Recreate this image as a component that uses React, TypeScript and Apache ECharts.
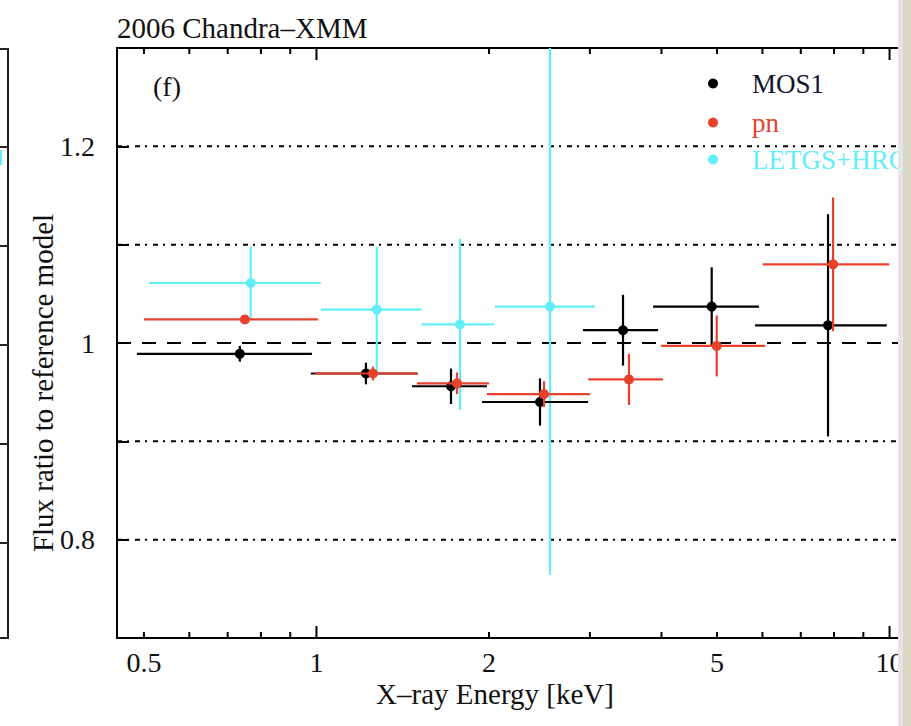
import React, { useEffect, useRef } from "react";
import * as echarts from "echarts";

// ---- data ----
const mos1X = [0.735, 1.22, 1.717, 2.455, 3.427, 4.894, 7.81];
const mos1XLo = [0.486, 0.978, 1.468, 1.945, 2.918, 3.867, 5.826];
const mos1XHi = [0.982, 1.5, 1.984, 2.978, 3.945, 5.919, 9.89];
const mos1Y = [0.989, 0.969, 0.956, 0.94, 1.013, 1.037, 1.018];
const mos1YErr = [0.008, 0.011, 0.018, 0.024, 0.036, 0.04, 0.113];

const pnX = [0.75, 1.255, 1.759, 2.495, 3.51, 4.994, 7.969];
const pnXLo = [0.5, 0.994, 1.497, 1.984, 2.98, 3.993, 6.007];
const pnXHi = [1.006, 1.504, 2.0, 3.0, 4.025, 6.065, 9.99];
const pnY = [1.024, 0.969, 0.959, 0.948, 0.963, 0.997, 1.08];
const pnYErr = [0.004, 0.007, 0.011, 0.013, 0.026, 0.031, 0.068];

const letgsX = [0.768, 1.274, 1.78, 2.556];
const letgsXLo = [0.51, 1.018, 1.526, 2.049];
const letgsXHi = [1.017, 1.526, 2.04, 3.06];
const letgsY = [1.061, 1.034, 1.019, 1.037];
const letgsYErr = [0.037, 0.064, 0.087, 0.273];

const xTicks = [0.5, 0.6, 0.7, 0.8, 0.9, 1, 2, 3, 4, 5, 6, 7, 8, 9, 10];
const xMajorTicks = [1, 10];
const xTickLabels = [0.5, 1, 2, 5, 10];
const yTickLabels = [0.8, 1, 1.2];
const dottedGrid = [0.8, 0.9, 1.1, 1.2];
const dashedGrid = [1.0];

const X_MIN = 0.4487;
const X_MAX = 10.9;
const Y_MIN = 0.7;
const Y_MAX = 1.3;

const FONT = "'Liberation Serif', 'Times New Roman', serif";
const BLACK = "#000000";
const RED = "#e8412b";
const CYAN = "#62eef8";
const TEXT = "#111111";

function errSeries(
  name: string,
  color: string,
  xs: number[],
  xlo: number[],
  xhi: number[],
  ys: number[],
  yerr: number[]
) {
  return {
    type: "custom",
    name,
    clip: true,
    itemStyle: { color },
    data: xs.map((x, i) => [x, ys[i], xlo[i], xhi[i], ys[i] - yerr[i], ys[i] + yerr[i]]),
    encode: { x: [0, 2, 3], y: [1, 4, 5] },
    renderItem: (_params: any, api: any) => {
      const c = api.coord([api.value(0), api.value(1)]);
      const l = api.coord([api.value(2), api.value(1)]);
      const r = api.coord([api.value(3), api.value(1)]);
      const b = api.coord([api.value(0), api.value(4)]);
      const t = api.coord([api.value(0), api.value(5)]);
      return {
        type: "group",
        children: [
          {
            type: "line",
            shape: { x1: l[0], y1: l[1], x2: r[0], y2: r[1] },
            style: { stroke: color, lineWidth: 2.2 },
          },
          {
            type: "line",
            shape: { x1: b[0], y1: b[1], x2: t[0], y2: t[1] },
            style: { stroke: color, lineWidth: 2.2 },
          },
          {
            type: "circle",
            shape: { cx: c[0], cy: c[1], r: 5 },
            style: { fill: color },
          },
        ],
      };
    },
  };
}

function gridLineSeries(values: number[], dash: number[]) {
  return {
    type: "custom",
    silent: true,
    clip: true,
    data: values.map((v) => [X_MIN, v]),
    encode: { x: 0, y: 1 },
    renderItem: (params: any, api: any) => {
      const cs = params.coordSys;
      const p = api.coord([X_MIN, api.value(1)]);
      return {
        type: "line",
        shape: { x1: cs.x, y1: p[1], x2: cs.x + cs.width, y2: p[1] },
        style: { stroke: BLACK, lineWidth: 2, lineDash: dash },
      };
    },
  };
}

const tickSeries = {
  type: "custom",
  silent: true,
  clip: false,
  data: xTicks.map((v) => [v, Y_MIN]),
  encode: { x: 0, y: 1 },
  renderItem: (_params: any, api: any) => {
    const v = api.value(0);
    const bot = api.coord([v, Y_MIN]);
    const top = api.coord([v, Y_MAX]);
    const len = xMajorTicks.indexOf(v) >= 0 ? 12 : 6;
    const children: any[] = [
      {
        type: "line",
        shape: { x1: bot[0], y1: bot[1], x2: bot[0], y2: bot[1] - len },
        style: { stroke: BLACK, lineWidth: 2 },
      },
      {
        type: "line",
        shape: { x1: top[0], y1: top[1], x2: top[0], y2: top[1] + len },
        style: { stroke: BLACK, lineWidth: 2 },
      },
    ];
    if (xTickLabels.indexOf(v) >= 0) {
      children.push({
        type: "text",
        style: {
          text: String(v),
          x: bot[0],
          y: bot[1] + 24,
          align: "center",
          verticalAlign: "middle",
          fontFamily: FONT,
          fontSize: 28,
          fill: TEXT,
        },
      });
    }
    return { type: "group", children };
  },
};

function legendItem(name: string, textColor: string, top: number) {
  return {
    data: [{ name, icon: "circle" }],
    left: 708,
    top,
    padding: 0,
    itemWidth: 68,
    itemHeight: 10,
    selectedMode: false,
    textStyle: { fontFamily: FONT, fontSize: 27, color: textColor },
  };
}

export default function App() {
  const ref = useRef<HTMLDivElement>(null);
  useEffect(() => {
    if (!ref.current) return;
    const chart = echarts.init(ref.current, undefined, { renderer: "svg" });
    const neighborTicks = [147, 246, 345, 444, 543];
    chart.setOption({
      animation: false,
      backgroundColor: "#ffffff",
      grid: {
        left: 117,
        top: 48,
        right: 0,
        bottom: 88,
        show: true,
        borderColor: BLACK,
        borderWidth: 2,
        backgroundColor: "transparent",
      },
      xAxis: {
        type: "log",
        min: X_MIN,
        max: X_MAX,
        axisLine: { show: false },
        axisTick: { show: false },
        axisLabel: { show: false },
        splitLine: { show: false },
      },
      yAxis: {
        type: "value",
        min: Y_MIN,
        max: Y_MAX,
        interval: 0.1,
        axisLine: { show: false },
        axisTick: { show: true, inside: true, length: 12, lineStyle: { color: BLACK, width: 2 } },
        splitLine: { show: false },
        axisLabel: {
          margin: 22,
          fontFamily: FONT,
          fontSize: 28,
          color: TEXT,
          formatter: (v: number) => {
            const hit = yTickLabels.find((t) => Math.abs(t - v) < 1e-6);
            return hit === undefined ? "" : String(hit);
          },
        },
      },
      legend: [
        legendItem("MOS1", "#151530", 70),
        legendItem("pn", RED, 109),
        legendItem("LETGS+HRC", CYAN, 146),
      ],
      series: [
        gridLineSeries(dottedGrid, [5, 5, 2, 6]),
        gridLineSeries(dashedGrid, [14, 11]),
        tickSeries,
        errSeries("LETGS+HRC", CYAN, letgsX, letgsXLo, letgsXHi, letgsY, letgsYErr),
        errSeries("MOS1", BLACK, mos1X, mos1XLo, mos1XHi, mos1Y, mos1YErr),
        errSeries("pn", RED, pnX, pnXLo, pnXHi, pnY, pnYErr),
      ],
      graphic: [
        {
          type: "text",
          x: 117,
          y: 28,
          style: {
            text: "2006 Chandra–XMM",
            align: "left",
            verticalAlign: "middle",
            fontFamily: FONT,
            fontSize: 29,
            fill: TEXT,
          },
        },
        {
          type: "text",
          x: 153,
          y: 86,
          style: {
            text: "(f)",
            align: "left",
            verticalAlign: "middle",
            fontFamily: FONT,
            fontSize: 28,
            fill: TEXT,
          },
        },
        {
          type: "text",
          x: 495,
          y: 694,
          style: {
            text: "X–ray Energy [keV]",
            align: "center",
            verticalAlign: "middle",
            fontFamily: FONT,
            fontSize: 29,
            fill: TEXT,
          },
        },
        {
          type: "text",
          x: 43,
          y: 383,
          rotation: Math.PI / 2,
          style: {
            text: "Flux ratio to reference model",
            align: "center",
            verticalAlign: "middle",
            fontFamily: FONT,
            fontSize: 29,
            fill: TEXT,
          },
        },
        // neighbouring panel edge on the left
        {
          type: "polyline",
          shape: { points: [[0, 49], [8, 49], [8, 638], [0, 638]] },
          style: { stroke: "#222222", lineWidth: 2, fill: "none" },
        },
        ...neighborTicks.map((y) => ({
          type: "line",
          shape: { x1: 0, y1: y, x2: 8, y2: y },
          style: { stroke: "#222222", lineWidth: 2 },
        })),
        {
          type: "line",
          shape: { x1: 1, y1: 150, x2: 1, y2: 165 },
          style: { stroke: CYAN, lineWidth: 2 },
        },
        // right-hand window edge
        {
          type: "rect",
          z: 100,
          shape: { x: 898, y: 0, width: 5, height: 726 },
          style: { fill: "#e4e4e4" },
        },
        {
          type: "rect",
          z: 100,
          shape: { x: 903, y: 0, width: 8, height: 726 },
          style: { fill: "#d9d6c2" },
        },
      ],
    });
    return () => chart.dispose();
  }, []);
  return (
    <div
      ref={ref}
      style={{ position: "absolute", left: 0, top: 0, width: 911, height: 726, background: "#fff" }}
    />
  );
}
